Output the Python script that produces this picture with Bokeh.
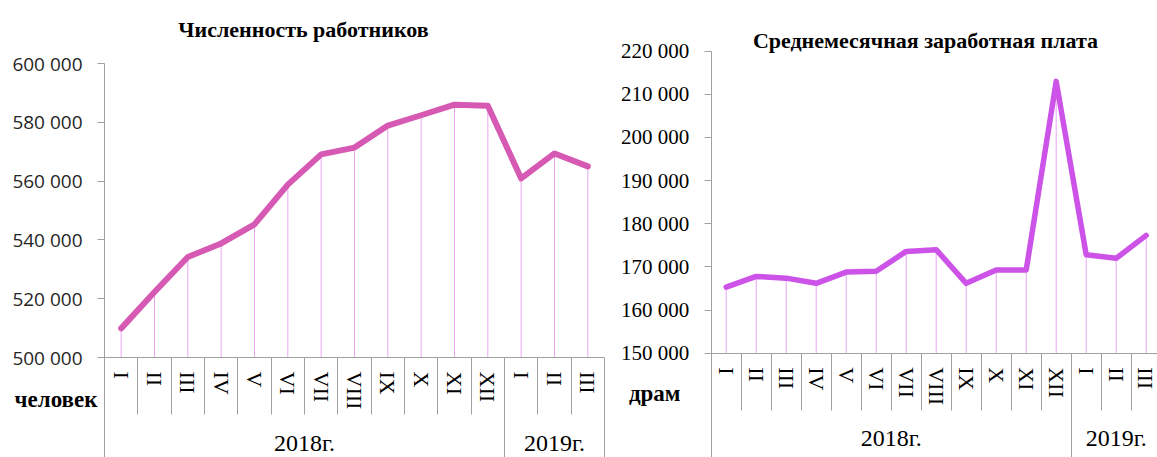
from bokeh.plotting import figure
from bokeh.models import LinearAxis, FixedTicker, Range1d, Label
from bokeh.layouts import row
from bokeh.embed import file_html
from bokeh.resources import INLINE

# ---------------- data ----------------
months = ["I", "II", "III", "IV", "V", "VI", "VII", "VIII", "IX", "X", "XI", "XII", "I", "II", "III"]
years = ["2018г."] * 12 + ["2019г."] * 3

workers = [509900, 522300, 534200, 538800, 545300, 558800, 569100, 571400,
           578900, 582400, 586000, 585600, 560900, 569400, 565000]
wages = [165300, 167800, 167400, 166200, 168800, 169000, 173600, 174000,
         166200, 169300, 169300, 213000, 172800, 172000, 177300]

workers_ticks = [500000, 520000, 540000, 560000, 580000, 600000]
workers_tick_labels = ["500 000", "520 000", "540 000", "560 000", "580 000", "600 000"]
wages_ticks = [150000, 160000, 170000, 180000, 190000, 200000, 210000, 220000]
wages_tick_labels = ["150 000", "160 000", "170 000", "180 000", "190 000",
                     "200 000", "210 000", "220 000"]

title_workers = "Численность работников"
title_wages = "Среднемесячная заработная плата"
unit_workers = "человек"
unit_wages = "драм"

# ---------------- styling / layout ----------------
H = 457
SERIF = "Liberation Serif"
AXIS_GRAY = "#A0A0A0"
SEP_SHORT = 57        # month separator length (px)
MONTH_GAP = 14        # gap between baseline and month labels (px)
YEAR_GAP = 72         # gap between baseline and year labels (px)


def make_chart(values, ticks, tick_labels, title, unit, *, width, axis_px, top_px,
               base_px, cat_px, line_color, line_width, drop_color, tick_font,
               tick_size, tick_color, title_cx, title_base, unit_right, unit_cy):
    n = len(values)
    y_top = ticks[-1]
    y_bottom = ticks[0]
    per_px = (y_top - y_bottom) / (base_px - top_px)
    y_end = y_top + top_px * per_px
    y_start = y_bottom - (H - base_px) * per_px
    x_start = -axis_px / cat_px
    x_end = (width - axis_px) / cat_px

    p = figure(width=width, height=H, output_backend="svg", toolbar_location=None,
               x_axis_type=None, y_axis_type=None,
               x_range=Range1d(x_start, x_end), y_range=Range1d(y_start, y_end),
               min_border_left=0, min_border_right=0,
               min_border_top=0, min_border_bottom=0)
    p.outline_line_color = None
    p.background_fill_color = "white"
    p.border_fill_color = "white"

    xs = [i + 0.5 for i in range(n)]

    # drop lines
    p.segment(x0=xs, y0=[y_bottom] * n, x1=xs, y1=values,
              line_color=drop_color, line_width=1)
    # main line
    p.line(xs, values, line_color=line_color, line_width=line_width,
           line_join="round", line_cap="round")

    # y axis
    yax = LinearAxis(ticker=FixedTicker(ticks=ticks, minor_ticks=[]),
                     major_label_overrides={t: l for t, l in zip(ticks, tick_labels)},
                     fixed_location=0, bounds=(y_start, y_top))
    yax.axis_line_color = AXIS_GRAY
    yax.major_tick_line_color = AXIS_GRAY
    yax.major_tick_in = 0
    yax.major_tick_out = 7
    yax.minor_tick_out = 0
    yax.minor_tick_line_color = None
    yax.major_label_standoff = 15
    yax.major_label_text_font = tick_font
    yax.major_label_text_font_size = tick_size
    yax.major_label_text_color = tick_color
    p.add_layout(yax, "left")

    # month axis (labels + short separators)
    inner = list(range(1, n))
    max_ = LinearAxis(ticker=FixedTicker(ticks=xs, minor_ticks=inner),
                      major_label_overrides={x: m for x, m in zip(xs, months)},
                      fixed_location=y_bottom, bounds=(0, n))
    max_.axis_line_color = AXIS_GRAY
    max_.major_tick_line_color = None
    max_.major_tick_in = 0
    max_.major_tick_out = 0
    max_.minor_tick_line_color = AXIS_GRAY
    max_.minor_tick_in = 0
    max_.minor_tick_out = SEP_SHORT
    max_.major_label_orientation = "vertical"
    max_.major_label_standoff = MONTH_GAP - SEP_SHORT
    max_.major_label_text_font = SERIF
    max_.major_label_text_font_size = "22px"
    max_.major_label_text_color = "black"
    p.add_layout(max_, "below")

    # year axis (group labels + long separators)
    bounds = [0]
    for i in range(1, n):
        if years[i] != years[i - 1]:
            bounds.append(i)
    bounds.append(n)
    centers = [(a + b) / 2 for a, b in zip(bounds[:-1], bounds[1:])]
    labels = [years[a] for a in bounds[:-1]]
    sep_long = int(round(H - base_px)) + 2
    yr = LinearAxis(ticker=FixedTicker(ticks=centers, minor_ticks=bounds),
                    major_label_overrides={c: l for c, l in zip(centers, labels)},
                    fixed_location=y_bottom, bounds=(0, n))
    yr.axis_line_color = None
    yr.major_tick_line_color = None
    yr.major_tick_in = 0
    yr.major_tick_out = 0
    yr.minor_tick_line_color = AXIS_GRAY
    yr.minor_tick_in = 0
    yr.minor_tick_out = sep_long
    yr.major_label_standoff = YEAR_GAP - sep_long
    yr.major_label_text_font = SERIF
    yr.major_label_text_font_size = "24px"
    yr.major_label_text_color = "black"
    p.add_layout(yr, "below")

    # title
    p.add_layout(Label(x=title_cx, y=H - title_base, x_units="screen", y_units="screen",
                       text=title, text_align="center", text_baseline="alphabetic",
                       text_font=SERIF, text_font_size="22px",
                       text_font_style="bold", text_color="black"))

    # unit label
    p.add_layout(Label(x=unit_right, y=H - unit_cy, x_units="screen", y_units="screen",
                       text=unit, text_align="right", text_baseline="middle",
                       text_font=SERIF, text_font_size="23px",
                       text_font_style="bold", text_color="black"))
    return p


p1 = make_chart(workers, workers_ticks, workers_tick_labels, title_workers, unit_workers,
                width=608, axis_px=104, top_px=63, base_px=357, cat_px=100 / 3,
                line_color="#D65AB4", line_width=6, drop_color="#E9A6F0",
                tick_font="Open Sans", tick_size="19px", tick_color="#262626",
                title_cx=303, title_base=29, unit_right=97, unit_cy=399)

p2 = make_chart(wages, wages_ticks, wages_tick_labels, title_wages, unit_wages,
                width=549, axis_px=102.7, top_px=50.7, base_px=352.7, cat_px=30,
                line_color="#CC52E8", line_width=5.5, drop_color="#E9A6F4",
                tick_font=SERIF, tick_size="21px", tick_color="black",
                title_cx=317, title_base=40, unit_right=72, unit_cy=393)

layout = row(p1, p2)
open("out.html", "w").write(file_html(layout, INLINE))
